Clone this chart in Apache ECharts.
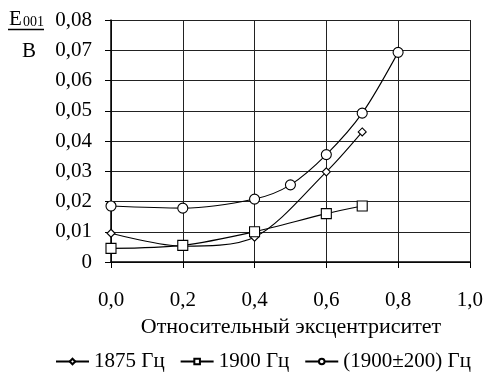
<!DOCTYPE html>
<html><head><meta charset="utf-8">
<script src="https://cdn.jsdelivr.net/npm/echarts@6/dist/echarts.min.js"></script>
<style>html,body{margin:0;padding:0;background:#fff}#c{width:486px;height:376px}</style>
</head><body><div id="c"></div>
<script>
const seriesNames = ['1875 Гц', '1900 Гц', '(1900±200) Гц'];
const s1875 = [[0, 0.0095], [0.2, 0.0052], [0.4, 0.0082], [0.6, 0.0298], [0.7, 0.043]];
const s1900 = [[0, 0.0045], [0.2, 0.0055], [0.4, 0.0100], [0.6, 0.0160], [0.7, 0.0185]];
const s1900w = [[0, 0.0185], [0.2, 0.0178], [0.4, 0.0208], [0.5, 0.0255], [0.6, 0.0355], [0.7, 0.0492], [0.8, 0.0693]];
const xTitle = 'Относительный эксцентриситет';
const yUnit = 'В';

const font = 'Liberation Serif';
const chart = echarts.init(document.getElementById('c'));
const mk = (name, data, sym, size) => ({
  name, type: 'line', data, smooth: 0.3, symbol: sym, symbolSize: size,
  lineStyle: {color: '#000', width: 1.1}, itemStyle: {color: '#fff', borderColor: '#000', borderWidth: 1.1},
  showAllSymbol: true, z: 3
});
chart.setOption({
  animation: false,
  grid: {left: 111, right: 15, top: 20, bottom: 114},
  xAxis: {
    type: 'value', min: 0, max: 1, interval: 0.2,
    axisLine: {lineStyle: {color: '#000', width: 1.5}},
    axisTick: {show: true, length: 6, lineStyle: {color: '#000'}},
    splitLine: {show: true, lineStyle: {color: '#222', width: 1}},
    axisLabel: {margin: 28, fontFamily: font, fontSize: 21, color: '#000',
      formatter: v => v.toFixed(1).replace('.', ',')}
  },
  yAxis: {
    type: 'value', min: 0, max: 0.08, interval: 0.01,
    axisLine: {show: true, lineStyle: {color: '#000', width: 1.5}},
    axisTick: {show: true, length: 6, lineStyle: {color: '#000'}},
    splitLine: {show: true, lineStyle: {color: '#222', width: 1}},
    axisLabel: {margin: 19, fontFamily: font, fontSize: 21, color: '#000',
      formatter: v => v === 0 ? '0' : v.toFixed(2).replace('.', ',')}
  },
  legend: {
    top: 346, left: 50, width: 900, itemGap: 15, itemWidth: 33, itemHeight: 7,
    textStyle: {fontFamily: font, fontSize: 21, color: '#000'},
    data: seriesNames
  },
  graphic: [
    {type: 'text', left: 9, top: 9, style: {text: 'E', font: '21px "Liberation Serif"', fill: '#000'}},
    {type: 'text', left: 23, top: 15, style: {text: '001', font: '14px "Liberation Serif"', fill: '#000'}},
    {type: 'line', shape: {x1: 8, y1: 29.5, x2: 44, y2: 29.5}, style: {stroke: '#000', lineWidth: 1.3}},
    {type: 'text', left: 22, top: 41, style: {text: yUnit, font: '21px "Liberation Serif"', fill: '#000'}},
    {type: 'text', x: 291, y: 327, style: {text: xTitle, font: '22px "Liberation Serif"', fill: '#000', align: 'center', verticalAlign: 'middle'}}
  ],
  series: [
    mk(seriesNames[0], s1875, 'diamond', 8),
    mk(seriesNames[1], s1900, 'rect', 10),
    mk(seriesNames[2], s1900w, 'circle', 10)
  ]
});
</script></body></html>
